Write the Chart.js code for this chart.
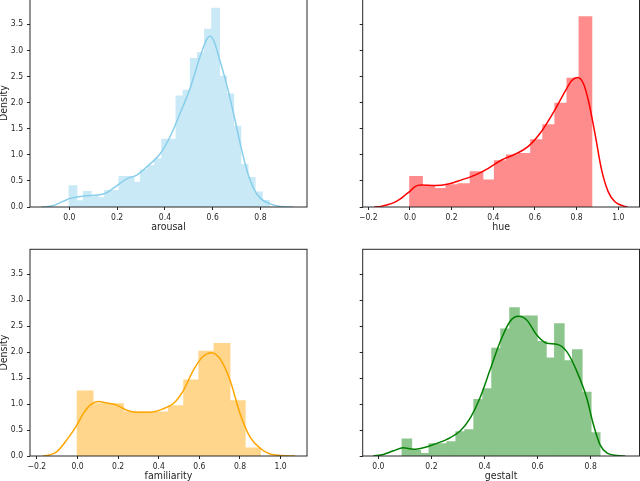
<!DOCTYPE html>
<html>
<head>
<meta charset="utf-8">
<script src="https://cdn.jsdelivr.net/npm/chart.js@4.4.0/dist/chart.umd.min.js"></script>
<style>
    html, body { margin: 0; padding: 0; background: #fff; }
    body { width: 640px; height: 481px; position: relative; overflow: hidden; }
    .panel { position: absolute; }
</style>
</head>
<body>
<div class="panel" id="arousalBox"><canvas id="arousalChart"></canvas></div>
<div class="panel" id="hueBox"><canvas id="hueChart"></canvas></div>
<div class="panel" id="familiarityBox"><canvas id="familiarityChart"></canvas></div>
<div class="panel" id="gestaltBox"><canvas id="gestaltChart"></canvas></div>
<script>
// Histogram bins (first edge, width, heights) and KDE curves

const arousalBinStart = 0.0;
const arousalBinWidth = 0.02986;
const arousalHeights = [0.40, 0.115, 0.29, 0.22, 0.17, 0.31, 0.31, 0.58, 0.58, 0.47,
    0.71, 0.79, 0.92, 1.29, 1.29, 2.12, 2.23, 2.84, 2.95, 3.40,
    3.80, 2.50, 2.16, 1.54, 0.81, 0.56, 0.28, 0.12];
const arousalKdeX = [-0.116, -0.09, -0.067, -0.04, -0.02, 0.0, 0.031, 0.087, 0.149, 0.184,
    0.240, 0.282, 0.324, 0.380, 0.422, 0.464, 0.506, 0.548, 0.576, 0.590,
    0.606, 0.631, 0.659, 0.687, 0.715, 0.743, 0.771, 0.799, 0.841, 0.883, 0.937];
const arousalKdeY = [0, 0.01, 0.03, 0.08, 0.12, 0.16, 0.19, 0.22, 0.26, 0.36,
    0.54, 0.61, 0.77, 1.02, 1.35, 1.80, 2.28, 2.89, 3.22, 3.27,
    3.17, 2.79, 2.34, 1.80, 1.22, 0.71, 0.36, 0.17, 0.06, 0.01, 0];

const hueBinStart = 0.0;
const hueBinWidth = 0.0581;
const hueHeights = [0.58, 0.39, 0.35, 0.42, 0.44, 0.67, 0.51, 0.88, 0.99, 1.02,
    1.28, 1.57, 1.98, 2.46, 3.64];
const hueKdeX = [-0.171, -0.14, -0.112, -0.08, -0.048, -0.02, 0.0, 0.024, 0.053, 0.120,
    0.184, 0.248, 0.312, 0.376, 0.440, 0.504, 0.568, 0.632, 0.696, 0.744,
    0.776, 0.805, 0.832, 0.856, 0.888, 0.920, 0.952, 0.984, 1.032, 1.044];
const hueKdeY = [0, 0.01, 0.04, 0.08, 0.15, 0.24, 0.30, 0.39, 0.42, 0.41,
    0.44, 0.52, 0.61, 0.74, 0.90, 1.01, 1.16, 1.45, 1.86, 2.21,
    2.42, 2.48, 2.37, 2.05, 1.41, 0.71, 0.29, 0.10, 0.01, 0];

const familiarityBinStart = 0.0;
const familiarityBinWidth = 0.0749;
const familiarityHeights = [1.245, 1.00, 1.00, 0.84, 0.84, 0.84, 0.96, 1.46, 2.01, 2.16, 1.06, 0.15];
const familiarityKdeX = [-0.171, -0.140, -0.103, -0.053, -0.004, 0.029, 0.062, 0.103, 0.144, 0.193,
    0.242, 0.291, 0.357, 0.422, 0.472, 0.521, 0.570, 0.619, 0.661, 0.702,
    0.751, 0.800, 0.849, 0.899, 0.948, 1.00, 1.071];
const familiarityKdeY = [0, 0.02, 0.08, 0.31, 0.59, 0.82, 0.98, 1.05, 1.02, 0.98,
    0.88, 0.84, 0.84, 0.91, 1.01, 1.26, 1.65, 1.92, 1.99, 1.87,
    1.46, 0.82, 0.37, 0.15, 0.04, 0.01, 0];

const gestaltBinStart = 0.0905;
const gestaltBinWidth = 0.0338;
const gestaltHeights = [0.32, 0.10, 0.04, 0.23, 0.23, 0.27, 0.46, 0.50, 1.08, 1.29,
    2.07, 2.44, 2.85, 2.69, 2.69, 2.20, 1.88, 2.54, 1.83, 2.04,
    1.22, 0.44];
const gestaltKdeX = [-0.019, 0.019, 0.057, 0.094, 0.132, 0.170, 0.207, 0.258, 0.308, 0.346,
    0.383, 0.421, 0.459, 0.496, 0.528, 0.559, 0.597, 0.635, 0.672, 0.710,
    0.748, 0.785, 0.810, 0.835, 0.861, 0.90, 0.93];
const gestaltKdeY = [0, 0.03, 0.10, 0.16, 0.13, 0.16, 0.22, 0.32, 0.48, 0.73,
    1.12, 1.66, 2.20, 2.59, 2.69, 2.62, 2.33, 2.17, 2.15, 2.01,
    1.63, 1.12, 0.61, 0.22, 0.06, 0.01, 0];

// Tick labels
const yTicks = [0, 0.5, 1.0, 1.5, 2.0, 2.5, 3.0, 3.5];
const arousalTicks = [0, 0.2, 0.4, 0.6, 0.8];
const hueTicks = [-0.2, 0, 0.2, 0.4, 0.6, 0.8, 1.0];
const familiarityTicks = [-0.2, 0, 0.2, 0.4, 0.6, 0.8, 1.0];
const gestaltTicks = [0, 0.2, 0.4, 0.6, 0.8];

// the picture's text is narrow, so prefer a narrow face
const FONT = "'Liberation Sans Narrow', 'DejaVu Sans Condensed', 'DejaVu Sans', sans-serif";
const INK = '#262626';

// box around the plot area, like matplotlib spines
const frameBox = {
    id: 'frameBox',
    afterDraw(chart) {
        const { ctx, chartArea: a } = chart;
        ctx.save();
        ctx.strokeStyle = INK;
        ctx.lineWidth = 1;
        ctx.strokeRect(a.left, a.top, a.right - a.left, a.bottom - a.top);
        ctx.restore();
    }
};

function fmt(v) {
    return (v < 0 ? '\u2212' : '') + Math.abs(v).toFixed(1);
}

function drawPanel(name, frame, xRange, xTicks, bins, kde, colors, showY) {
    const box = document.getElementById(name + 'Box');
    const left = Math.floor(frame.l - 32);
    const top = Math.floor(frame.t - 6);
    const right = Math.ceil(frame.r + 6);
    const bottom = Math.ceil(frame.b + 26.5);
    box.style.left = left + 'px';
    box.style.top = top + 'px';
    box.style.width = (right - left) + 'px';
    box.style.height = (bottom - top) + 'px';

    const yAxisW = frame.l - left;
    const xAxisH = bottom - frame.b;

    const bars = bins.heights.map((h, i) => ({ x: bins.start + (i + 0.5) * bins.width, y: h }));
    const line = kde.x.map((x, i) => ({ x: x, y: kde.y[i] }));

    new Chart(document.getElementById(name + 'Chart'), {
        type: 'bar',
        data: {
            datasets: [{
                type: 'line',
                data: line,
                borderColor: colors.line,
                borderWidth: 1.5,
                pointRadius: 0,
                fill: false,
                cubicInterpolationMode: 'monotone'
            }, {
                type: 'bar',
                data: bars,
                backgroundColor: colors.bar,
                borderWidth: 0,
                inflateAmount: 0.8,
                barPercentage: 1,
                categoryPercentage: 1
            }]
        },
        options: {
            animation: false,
            responsive: true,
            maintainAspectRatio: false,
            layout: {
                autoPadding: false,
                padding: { left: 0, bottom: 0, top: frame.t - top, right: right - frame.r }
            },
            plugins: {
                legend: { display: false },
                tooltip: { enabled: false }
            },
            scales: {
                x: {
                    type: 'linear',
                    min: xRange[0],
                    max: xRange[1],
                    offset: false,
                    border: { display: false },
                    grid: { display: true, offset: false, drawOnChartArea: false, drawTicks: true, tickLength: 3, tickColor: INK },
                    ticks: { color: INK, font: { family: FONT, size: 8.5 }, padding: 3, maxRotation: 0, callback: v => fmt(v) },
                    afterBuildTicks: s => { s.ticks = xTicks.map(v => ({ value: v })); },
                    afterFit: s => { s.height = xAxisH; s.paddingLeft = 0; s.paddingRight = 0; },
                    title: { display: true, text: name, color: INK, font: { family: FONT, size: 10.5 }, padding: 0 }
                },
                y: {
                    min: 0,
                    max: 3.98,
                    border: { display: false },
                    grid: { display: true, drawOnChartArea: false, drawTicks: true, tickLength: 3, tickColor: INK },
                    ticks: { color: INK, font: { family: FONT, size: 8.5 }, padding: 4, callback: v => showY ? fmt(v) : '' },
                    afterBuildTicks: s => { s.ticks = yTicks.map(v => ({ value: v })); },
                    afterFit: s => { s.width = yAxisW; s.paddingTop = 0; s.paddingBottom = 0; },
                    title: { display: showY, text: 'Density', color: INK, font: { family: FONT, size: 10.5 }, padding: 0 }
                }
            }
        },
        plugins: [frameBox]
    });
}

drawPanel('arousal', { l: 30, r: 307, t: -0.8, b: 207 }, [-0.165, 0.995], arousalTicks,
    { start: arousalBinStart, width: arousalBinWidth, heights: arousalHeights },
    { x: arousalKdeX, y: arousalKdeY },
    { line: '#87ceeb', bar: 'rgb(201, 233, 246)' }, true);

drawPanel('hue', { l: 362.7, r: 639.5, t: -0.8, b: 207 }, [-0.227, 1.102], hueTicks,
    { start: hueBinStart, width: hueBinWidth, heights: hueHeights },
    { x: hueKdeX, y: hueKdeY },
    { line: '#ff0000', bar: 'rgb(255, 140, 140)' }, false);

drawPanel('familiarity', { l: 30, r: 307, t: 249.3, b: 456 }, [-0.234, 1.130], familiarityTicks,
    { start: familiarityBinStart, width: familiarityBinWidth, heights: familiarityHeights },
    { x: familiarityKdeX, y: familiarityKdeY },
    { line: '#ffa500', bar: 'rgb(255, 214, 140)' }, true);

drawPanel('gestalt', { l: 362.7, r: 639.5, t: 249.3, b: 456 }, [-0.059, 0.984], gestaltTicks,
    { start: gestaltBinStart, width: gestaltBinWidth, heights: gestaltHeights },
    { x: gestaltKdeX, y: gestaltKdeY },
    { line: '#008000', bar: 'rgb(140, 198, 140)' }, false);
</script>
</body>
</html>
